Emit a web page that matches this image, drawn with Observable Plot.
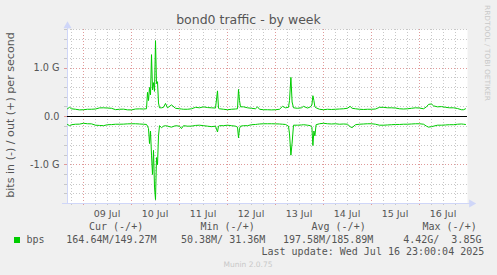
<!DOCTYPE html>
<html><head><meta charset="utf-8">
<script src="https://cdn.jsdelivr.net/npm/d3@7"></script>
<script src="https://cdn.jsdelivr.net/npm/@observablehq/plot@0.6"></script>
<style>
html,body{margin:0;padding:0;background:#f0f0f0;}
#chart{position:relative;width:497px;height:275px;overflow:hidden;background:#f0f0f0;}
</style></head><body><div id="chart"></div>
<script>
// hours since 2025-07-08 16:00
const hours = [0,1,2,4,6,8,10,12,14,16,18,20,22,24,26,28,30,32,34,36,38,39.5,
40,40.5,41,41.5,42,42.5,43,43.5,44,44.5,45,45.5,46,
47,48,49,50,52,54,56,57,58,60,62,64,66,68,70,72,74,75,75.5,76,78,80,82,84,85,85.5,86,86.5,
88,90,92,94,95,96,98,100,102,104,106,107.5,109,110.5,111,111.7,112.3,113,115,117,118,120,
121.5,122.2,122.7,123.2,123.7,124.3,126,128,130,132,134,136,138,140,141.3,142.3,144,146,148,
150,152,154,156,158,160,162,164,166,168,170,172,174,176,178,179.5,180.5,182,183,185,187,189,
191,193,195,197,198,199];
// out (+) in Gbit/s
const outG = [0.16,0.19,0.16,0.15,0.137,0.14,0.15,0.15,0.155,0.178,0.18,0.175,0.17,0.142,0.15,0.152,0.138,0.137,0.155,0.158,0.155,0.16,
0.50,0.33,0.60,0.45,1.28,0.55,0.70,0.52,1.57,0.68,0.72,0.28,0.18,
0.18,0.19,0.27,0.18,0.24,0.17,0.16,0.155,0.15,0.15,0.16,0.19,0.18,0.2,0.185,0.18,0.175,0.53,0.17,0.16,0.15,0.14,0.15,0.155,0.16,0.56,0.33,0.2,
0.2,0.18,0.17,0.16,0.2,0.15,0.14,0.14,0.137,0.14,0.15,0.21,0.18,0.19,0.33,0.81,0.3,0.18,0.17,0.18,0.21,0.175,
0.2,0.24,0.43,0.33,0.2,0.18,0.15,0.14,0.15,0.145,0.15,0.155,0.16,0.17,0.21,0.17,0.16,0.15,0.145,
0.15,0.15,0.155,0.19,0.19,0.18,0.18,0.175,0.16,0.155,0.16,0.17,0.18,0.175,0.16,0.2,0.25,0.26,0.22,0.2,0.205,0.19,
0.18,0.18,0.165,0.14,0.14,0.16];
// in (-) in Gbit/s
const inG = [-0.165,-0.19,-0.17,-0.16,-0.158,-0.14,-0.15,-0.152,-0.18,-0.185,-0.19,-0.17,-0.168,-0.16,-0.16,-0.158,-0.152,-0.15,-0.15,-0.155,-0.16,-0.165,
-0.2,-0.25,-0.56,-0.3,-0.8,-1.2,-0.7,-1.46,-1.72,-0.85,-1.0,-0.4,-0.19,
-0.23,-0.2,-0.19,-0.2,-0.22,-0.19,-0.2,-0.25,-0.19,-0.2,-0.2,-0.185,-0.18,-0.19,-0.2,-0.21,-0.2,-0.32,-0.2,-0.19,-0.19,-0.18,-0.19,-0.2,-0.22,-0.44,-0.25,-0.2,
-0.19,-0.19,-0.17,-0.165,-0.16,-0.155,-0.15,-0.15,-0.15,-0.152,-0.155,-0.16,-0.165,-0.2,-0.36,-0.8,-0.55,-0.18,-0.18,-0.175,-0.17,-0.18,
-0.19,-0.22,-0.6,-0.3,-0.4,-0.17,-0.15,-0.14,-0.15,-0.155,-0.15,-0.16,-0.155,-0.16,-0.21,-0.23,-0.17,-0.16,-0.155,
-0.15,-0.15,-0.16,-0.18,-0.18,-0.175,-0.17,-0.165,-0.165,-0.16,-0.16,-0.155,-0.15,-0.15,-0.16,-0.2,-0.22,-0.21,-0.2,-0.18,-0.18,-0.175,
-0.17,-0.17,-0.16,-0.155,-0.16,-0.165];

const dayLabels = ["09 Jul","10 Jul","11 Jul","12 Jul","13 Jul","14 Jul","15 Jul","16 Jul"];
const yTickValues = [1, 0, -1];
const yTickLabels = ["1.0 G", "0.0", "-1.0 G"];
const legendHeaders = ["Cur (-/+)", "Min (-/+)", "Avg (-/+)", "Max (-/+)"];
const legendValues = ["164.64M/149.27M", "50.38M/ 31.36M", "197.58M/185.89M", "4.42G/  3.85G"];
const seriesName = "bps";
const titleText = "bond0 traffic - by week";
const yTitle = "bits in (-) / out (+) per second";
const lastUpdate = "Last update: Wed Jul 16 23:00:04 2025";
const footer = "Munin 2.0.75";
const watermark = "RRDTOOL / TOBI OETIKER";

const H = 3600e3;
const t0 = Date.UTC(2025, 6, 8, 16);
const D = h => new Date(t0 + h * H);
const rows = hours.map((h, i) => ({date: D(h), out: outG[i], inn: inG[i]}));

const majorX = d3.range(8, 200, 24).map(D);
const minorX = d3.range(2, 200, 6).filter(h => (h - 8) % 24 !== 0).map(D);
const allYg = d3.range(-8, 10).map(k => +(k * 0.2).toFixed(1));
const majorY = [1, -1];
const minorY = allYg.filter(v => !majorY.includes(v) && v !== 0);
const noons = d3.range(20, 200, 24).map(D);

const GRID = "#c8c8c8", MGRID = "#e09a9a", AXIS = "#cfd6f8", GREEN = "#00cc00";
const dash = "1,2";
const crisp = {shapeRendering: "crispEdges"};

const plot = Plot.plot({
  width: 497, height: 275,
  marginLeft: 67, marginRight: 30, marginTop: 29, marginBottom: 72,
  x: {type: "utc", domain: [D(0), D(200)], axis: null},
  y: {domain: [-1.8, 1.8], axis: null},
  style: {background: "transparent", overflow: "visible"},
  marks: [
    Plot.frame({fill: "white", stroke: "none"}),
    Plot.ruleX(minorX, {stroke: GRID, strokeDasharray: dash, ...crisp}),
    Plot.ruleY(minorY, {stroke: GRID, strokeDasharray: dash, ...crisp}),
    Plot.ruleX(majorX, {stroke: MGRID, strokeDasharray: dash, ...crisp}),
    Plot.ruleY(majorY, {stroke: MGRID, strokeDasharray: dash, ...crisp}),
    // tick marks outside axes
    Plot.ruleY(minorY, {x1: D(-1.5), x2: D(0), stroke: GRID, ...crisp}),
    Plot.ruleY(majorY.concat([0]), {x1: D(-1.5), x2: D(0), stroke: MGRID, ...crisp}),
    Plot.ruleX(minorX, {y1: -1.8, y2: -1.85, stroke: GRID, ...crisp}),
    Plot.ruleX(majorX, {y1: -1.8, y2: -1.85, stroke: MGRID, ...crisp}),
    // axes
    Plot.ruleX([D(0)], {y1: -1.8, y2: 1.86, stroke: AXIS, ...crisp}),
    Plot.ruleY([-1.8], {x1: D(-2.5), x2: D(201.5), stroke: AXIS, ...crisp}),
    Plot.dot([D(0)], {x: d => d, y: () => 1.875, symbol: "triangle", r: 3, fill: AXIS, stroke: "none"}),
    Plot.dot([D(202)], {x: d => d, y: () => -1.8, symbol: "triangle", r: 3, fill: AXIS, stroke: "none", rotate: 90}),
    Plot.ruleY([0], {stroke: "black", ...crisp}),
    Plot.line(rows, {x: "date", y: "out", stroke: GREEN, strokeWidth: 1}),
    Plot.line(rows, {x: "date", y: "inn", stroke: GREEN, strokeWidth: 1})
  ]
});

document.getElementById("chart").appendChild(plot);
const svg = d3.select(plot);
const xs = plot.scale("x"), ys = plot.scale("y");
const FONT = "DejaVu Sans", MONO = "DejaVu Sans Mono", TXT = "#555555";

function txt(x, y, s, opts = {}) {
  const t = svg.append("text").attr("x", x).attr("y", y).text(s)
    .attr("font-family", opts.family || FONT)
    .attr("font-size", opts.size || 9.7)
    .attr("fill", opts.fill || TXT)
    .attr("text-anchor", opts.anchor || "start")
    .style("white-space", "pre");
  if (opts.transform) t.attr("transform", opts.transform);
  return t;
}

// title
txt(248.5, 24, titleText, {size: 12.5, anchor: "middle"});
// y tick labels
yTickValues.forEach((v, i) => txt(59.5, ys.apply(v) + 3.5, yTickLabels[i], {anchor: "end"}));
// x labels
noons.forEach((d, i) => txt(xs.apply(d), 216.5, dayLabels[i], {anchor: "middle", size: 9.5}));
// y title
txt(0, 0, yTitle, {size: 11.1, anchor: "middle", transform: "translate(13.5,115) rotate(-90)"});
// watermark
txt(0, 0, watermark, {size: 7, fill: "#c8c8c8", transform: "translate(485,5) rotate(90)"}).attr("textLength", 96).attr("lengthAdjust", "spacingAndGlyphs");
// legend
svg.append("rect").attr("x", 14).attr("y", 237).attr("width", 6).attr("height", 6).attr("fill", GREEN);
txt(26.5, 243, seriesName, {family: MONO, size: 10});
const hx = [89, 200.5, 311.5, 422.5];
legendHeaders.forEach((s, i) => txt(hx[i], 230, s, {family: MONO, size: 10}));
const vx = [66.3, 181, 283, 403.2];
legendValues.forEach((s, i) => txt(vx[i], 243, s, {family: MONO, size: 10}));
txt(261.5, 255, lastUpdate, {family: MONO, size: 10});
txt(248, 267, footer, {size: 7.5, fill: "#c8c8c8", anchor: "middle"});
</script></body></html>
